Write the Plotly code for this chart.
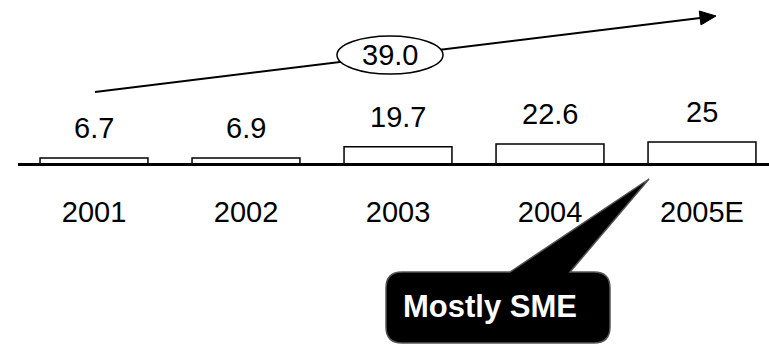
import plotly.graph_objects as go

# Revenue by year (bars) and the growth rate shown on the trend arrow
years = ["2001", "2002", "2003", "2004", "2005E"]
values = [6.7, 6.9, 19.7, 22.6, 25]
growth_label = "39.0"
callout_text = "Mostly SME"

W, H = 769, 346
LEFT = 18
FONT = "Liberation Sans, Arial, sans-serif"
TEXT_SIZE = 29


def xp(px):
    """Pixel x -> paper x (plot area starts at LEFT)."""
    return (px - LEFT) / (W - LEFT)


def yp(py):
    """Pixel y (from top) -> paper y."""
    return 1 - py / H


fig = go.Figure(
    go.Bar(
        x=years,
        y=values,
        width=0.71,
        marker=dict(color="white", line=dict(color="black", width=1.5)),
        hoverinfo="skip",
    )
)

# value labels above each bar (category axis: position by index)
annotations = [
    dict(x=i, y=v, xref="x", yref="y", text=f"{v:g}", showarrow=False,
         xanchor="center", yanchor="middle", yshift=30,
         font=dict(size=TEXT_SIZE, color="black", family=FONT))
    for i, v in enumerate(values)
]

# growth-rate label in the ellipse
annotations.append(dict(x=xp(390), y=yp(55), xref="paper", yref="paper", text=growth_label,
                        showarrow=False, xanchor="center", yanchor="middle",
                        font=dict(size=TEXT_SIZE, color="black", family=FONT)))
# callout text
annotations.append(dict(x=xp(490), y=yp(306), xref="paper", yref="paper",
                        text=f"<b>{callout_text}</b>", showarrow=False,
                        xanchor="center", yanchor="middle",
                        font=dict(size=31, color="white", family=FONT)))

shapes = []

# trend arrow: shaft, then a filled head
x_start, y_start = 95, 92
x_tip, y_tip = 716, 16
dx, dy = x_tip - x_start, y_tip - y_start
L = (dx ** 2 + dy ** 2) ** 0.5
ux, uy = dx / L, dy / L
head_len, head_half = 16, 7
bx, by = x_tip - head_len * ux, y_tip - head_len * uy
px_, py_ = -uy, ux
shapes.append(dict(type="line", xref="paper", yref="paper",
                   x0=xp(x_start), y0=yp(y_start), x1=xp(bx), y1=yp(by),
                   line=dict(color="black", width=2)))
head = [(x_tip, y_tip), (bx + head_half * px_, by + head_half * py_),
        (bx - head_half * px_, by - head_half * py_)]
shapes.append(dict(type="path", xref="paper", yref="paper",
                   path="M " + " L ".join(f"{xp(a):.5f},{yp(b):.5f}" for a, b in head) + " Z",
                   fillcolor="black", line=dict(color="black", width=1)))

# ellipse around the growth label
shapes.append(dict(type="circle", xref="paper", yref="paper",
                   x0=xp(337), x1=xp(443), y0=yp(74), y1=yp(36),
                   fillcolor="white", line=dict(color="black", width=1.5)))

# speech-bubble callout with a pointer toward the 2005E bar
bx0, bx1, by0, by1, r = 386, 610, 272, 343, 16
tail_a, tail_b, tip = 510, 570, (649, 179)
pts = [
    ("M", bx0 + r, by0), ("L", tail_a, by0), ("L", tip[0], tip[1]), ("L", tail_b, by0),
    ("L", bx1 - r, by0), ("Q", bx1, by0, bx1, by0 + r), ("L", bx1, by1 - r),
    ("Q", bx1, by1, bx1 - r, by1), ("L", bx0 + r, by1), ("Q", bx0, by1, bx0, by1 - r),
    ("L", bx0, by0 + r), ("Q", bx0, by0, bx0 + r, by0),
]
path = ""
for cmd, *c in pts:
    coords = " ".join(f"{xp(c[i]):.5f},{yp(c[i + 1]):.5f}" for i in range(0, len(c), 2))
    path += f"{cmd} {coords} "
path += "Z"
shapes.append(dict(type="path", xref="paper", yref="paper", path=path,
                   fillcolor="black", line=dict(color="#555555", width=1.5)))

# y scale: 0 sits at pixel 164 and each unit is 0.88 px
base_px, ppu = 164, 0.88
y_top = base_px / ppu
y_bot = -(H - base_px) / ppu

fig.update_layout(
    width=W, height=H,
    margin=dict(l=LEFT, r=0, t=0, b=0),
    plot_bgcolor="white", paper_bgcolor="white",
    showlegend=False,
    font=dict(family=FONT, color="black"),
    xaxis=dict(type="category", range=[-0.5, (W - LEFT) / 152 - 0.5], showgrid=False,
               zeroline=False, showline=True, linecolor="black", linewidth=3,
               anchor="free", position=yp(base_px),
               ticks="", tickfont=dict(size=TEXT_SIZE, family=FONT, color="black"),
               ticklabelstandoff=21, fixedrange=True),
    yaxis=dict(range=[y_bot, y_top], visible=False, fixedrange=True),
    annotations=annotations,
    shapes=shapes,
)

fig.write_html("out.html")
